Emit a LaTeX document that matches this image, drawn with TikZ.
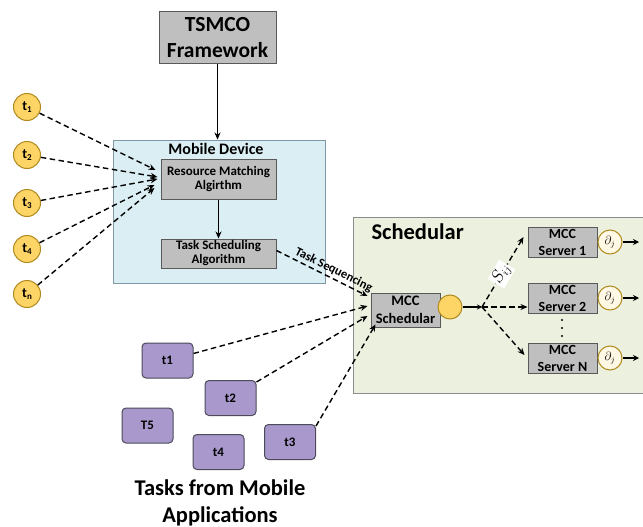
\documentclass[tikz,border=0pt]{standalone}
\usepackage{fontspec}
\setmainfont{Carlito}
\usetikzlibrary{arrows.meta,calc}
\definecolor{boxgray}{HTML}{BFBFBF}
\definecolor{boxedge}{HTML}{595959}
\definecolor{mobblue}{HTML}{DBEEF4}
\definecolor{mobedge}{HTML}{7F98A6}
\definecolor{schgreen}{HTML}{EBF1DE}
\definecolor{schedge}{HTML}{8C8C8C}
\definecolor{tyellow}{HTML}{FDD567}
\definecolor{tyedge}{HTML}{B08A1E}
\definecolor{cream}{HTML}{FFF8E4}
\definecolor{tpurple}{HTML}{A898CB}
\definecolor{tpedge}{HTML}{4D4A5A}
\newcommand{\tsub}[2]{#1\raisebox{-2.5pt}{\fontsize{9}{9}\selectfont #2}}
\begin{document}
\begin{tikzpicture}[x=1pt,y=-1pt,font=\bfseries,
  graybox/.style={draw=boxedge,fill=boxgray,line width=1pt,inner sep=0pt,align=center,font=\bfseries\fontsize{13}{14}\selectfont},
  srvbox/.style={graybox,minimum width=69pt,minimum height=30pt,font=\bfseries\fontsize{14}{17}\selectfont},
  tcirc/.style={circle,draw=tyedge,fill=tyellow,line width=1pt,minimum size=27pt,inner sep=0pt,font=\bfseries\fontsize{14}{14}\selectfont},
  dcirc/.style={circle,draw=tyedge,fill=cream,line width=1pt,minimum size=24pt,inner sep=0pt,font=\fontsize{12}{12}\selectfont},
  taskbox/.style={draw=tpedge,fill=tpurple,rounded corners=4pt,line width=1pt,minimum width=51pt,minimum height=35pt,inner sep=0pt,font=\bfseries\fontsize{13}{14}\selectfont},
  dasharrow/.style={dash pattern=on 5.5pt off 3.5pt,line width=1.4pt,-{Stealth[length=7pt,width=6pt]}},
  solidarrow/.style={line width=1.4pt,-{Stealth[length=7pt,width=6pt]}}]
\useasboundingbox (0,0) rectangle (643,527);
% containers
\node[draw=mobedge,fill=mobblue,line width=1pt,minimum width=212pt,minimum height=143pt,inner sep=0pt] (mobile) at (219,211.5) {};
\node[font=\bfseries\fontsize{16}{18}\selectfont] (mobilelbl) at (216,149) {Mobile Device};
\node[draw=schedge,fill=schgreen,line width=1pt,minimum width=294pt,minimum height=176pt,inner sep=0pt] (sched) at (500,305) {};
\node[font=\bfseries\fontsize{22.5}{24}\selectfont,anchor=west] (schedlbl) at (368,232) {Schedular};
% top box
\node[graybox,font=\bfseries\fontsize{21.5}{26}\selectfont,minimum width=117pt,minimum height=52pt] (tsmco) at (217.5,38) {TSMCO\\Framework};
% mobile device boxes
\node[graybox,minimum width=115pt,minimum height=40pt] (res) at (218.5,179) {Resource Matching\\Algirthm};
\node[graybox,minimum width=115pt,minimum height=29pt] (ts) at (218.5,253.5) {Task Scheduling\\Algorithm};
\draw[solidarrow] (tsmco) -- (mobile.north -| tsmco);
\draw[solidarrow] (res) -- (ts);
% t circles
\node[tcirc] (t1) at (27,107) {\tsub{t}{1}};
\node[tcirc] (t2) at (27,155) {\tsub{t}{2}};
\node[tcirc] (t3) at (27,203) {\tsub{t}{3}};
\node[tcirc] (t4) at (27,249) {\tsub{t}{4}};
\node[tcirc] (tn) at (27,294) {\tsub{t}{n}};
\coordinate (e1) at ($(res.west)+(-5,-9)$);
\coordinate (e2) at ($(res.west)+(-3,-2)$);
\coordinate (e3) at ($(res.west)+(-3,0)$);
\coordinate (e4) at ($(res.west)+(-6,6)$);
\coordinate (e5) at ($(res.west)+(-6,9)$);
\draw[dasharrow] (t1) -- (e1);
\draw[dasharrow] (t2) -- (e2);
\draw[dasharrow] (t3) -- (e3);
\draw[dasharrow] (t4) -- (e4);
\draw[dasharrow] (tn) -- (e5);
% MCC schedular
\node[srvbox,minimum height=34pt,font=\bfseries\fontsize{14.5}{18}\selectfont] (mcc) at (405.5,310) {MCC\\Schedular};
\node[circle,draw=tyedge,fill=tyellow,line width=1pt,minimum size=24pt,inner sep=0pt] (hub) at (450,307) {};
\coordinate (junc) at (482,307);
\draw[solidarrow,-{Stealth[length=5pt,width=5pt]}] (hub) -- (junc);
% servers
\node[srvbox] (s1) at (562.5,242) {MCC\\Server 1};
\node[srvbox] (s2) at (562.5,298) {MCC\\Server 2};
\node[srvbox] (sn) at (562.5,358) {MCC\\Server N};
\draw[dasharrow] (junc) -- node[sloped,fill=white,inner sep=1.2pt,pos=0.47,font=\fontsize{16}{16}\selectfont] (sij) {$S_{ij}$} ($(s1.west)+(-4,-5)$);
\draw[dasharrow] (junc) -- (s2.west |- junc);
\draw[dasharrow] (junc) -- ($(sn.west)+(-3,-3)$);
\foreach \yy in {320,328,336} \fill (562,\yy) circle (1.1pt);
\node[dcirc] (d1) at (610,242) {$\partial_j$};
\node[dcirc] (d2) at (610,298) {$\partial_j$};
\node[dcirc] (dn) at (610,358) {$\partial_j$};
\coordinate (o1) at (639,242);
\coordinate (o2) at (639,298);
\coordinate (on) at (639,358);
\draw[solidarrow,-{Stealth[length=6pt,width=6pt]}] (d1) -- (o1);
\draw[solidarrow,-{Stealth[length=6pt,width=6pt]}] (d2) -- (o2);
\draw[solidarrow,-{Stealth[length=6pt,width=6pt]}] (dn) -- (on);
% task sequencing
\draw[dasharrow] ($(ts.east)+(0,-3)$) -- node[sloped,above,pos=0.59,inner sep=2pt,font=\bfseries\fontsize{12.5}{14}\selectfont] (seq) {Task Sequencing} ($(mcc.west)+(-3,-14)$);
% task boxes
\node[taskbox] (k1) at (167.5,360.5) {t1};
\node[taskbox] (k2) at (230.5,398) {t2};
\node[taskbox] (k5) at (147.5,425.5) {T5};
\node[taskbox] (k4) at (218.5,452) {t4};
\node[taskbox] (k3) at (290,442) {t3};
\draw[dasharrow] ($(k1.east)+(0,-7)$) -- ($(mcc.west)+(-3,-4)$);
\draw[dasharrow] ($(k2.north east)+(0,2)$) -- ($(mcc.west)+(-3,6)$);
\draw[dasharrow] ($(k3.north east)+(0,2)$) -- ($(mcc.south west)+(5,-3)$);
\node[font=\bfseries\fontsize{22.5}{27}\selectfont,align=center] (apps) at (220,503) {Tasks from Mobile\\Applications};
\end{tikzpicture}
\end{document}
